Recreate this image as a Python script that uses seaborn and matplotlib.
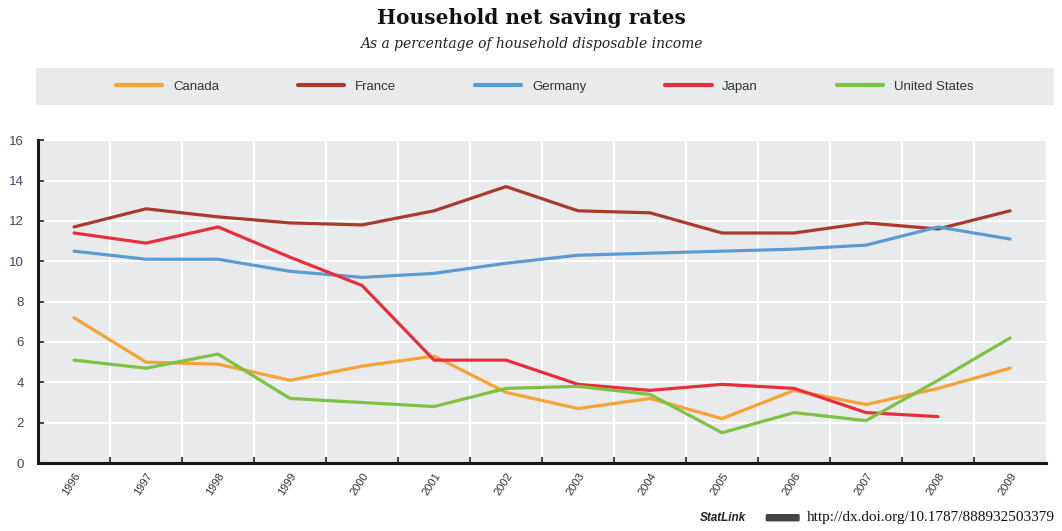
import matplotlib
matplotlib.use("Agg")
import matplotlib.pyplot as plt
import seaborn as sns
import pandas as pd
import numpy as np
from matplotlib.patches import Rectangle, FancyBboxPatch
from matplotlib.lines import Line2D

years = ["1996", "1997", "1998", "1999", "2000", "2001", "2002",
         "2003", "2004", "2005", "2006", "2007", "2008", "2009"]
countries = ["Canada", "France", "Germany", "Japan", "United States"]

canada = [7.2, 5.0, 4.9, 4.1, 4.8, 5.3, 3.5, 2.7, 3.2, 2.2, 3.6, 2.9, 3.7, 4.7]
france = [11.7, 12.6, 12.2, 11.9, 11.8, 12.5, 13.7, 12.5, 12.4, 11.4, 11.4, 11.9, 11.6, 12.5]
germany = [10.5, 10.1, 10.1, 9.5, 9.2, 9.4, 9.9, 10.3, 10.4, 10.5, 10.6, 10.8, 11.7, 11.1]
japan = [11.4, 10.9, 11.7, 10.2, 8.8, 5.1, 5.1, 3.9, 3.6, 3.9, 3.7, 2.5, 2.3, None]
united_states = [5.1, 4.7, 5.4, 3.2, 3.0, 2.8, 3.7, 3.8, 3.4, 1.5, 2.5, 2.1, 4.1, 6.2]

colors = ["#F7A234", "#A83A2E", "#5B9BD3", "#E62F3C", "#7DC243"]

series = [canada, france, germany, japan, united_states]
rows = []
for name, vals in zip(countries, series):
    for i, (yr, v) in enumerate(zip(years, vals)):
        if v is not None:
            rows.append({"pos": i, "year": yr, "country": name, "rate": v})
df = pd.DataFrame(rows)

sns.set_theme(style="white")
plt.rcParams["font.family"] = ["Liberation Sans", "DejaVu Sans"]

fig = plt.figure(figsize=(10.62, 5.31), dpi=100)
ax = fig.add_axes([0.0358, 0.128, 0.9492, 0.608])
ax.set_facecolor("#E9EAEC")

sns.lineplot(data=df, x="pos", y="rate", hue="country", hue_order=countries,
             palette=colors, linewidth=2.3, legend=False, ax=ax, estimator=None)

ax.set_xlim(-0.5, len(years) - 0.5)
ax.set_ylim(0, 16)
ax.set_yticks(np.arange(0, 17, 2))
ax.set_xticks(np.arange(len(years)))
ax.set_xticks(np.arange(len(years) - 1) + 0.5, minor=True)
ax.set_xticklabels(years, rotation=57, ha="right", rotation_mode="anchor",
                   fontsize=8, color="#333333")
ax.tick_params(axis="x", which="major", length=0, pad=6)
ax.tick_params(axis="x", which="minor", length=4, width=1.2, direction="in",
               color="#222222", bottom=True)
ax.tick_params(axis="y", length=4, width=1.2, direction="in", color="#222222",
               labelsize=9.5, labelcolor="#3A4660", pad=10, left=True)
ax.grid(False)
ax.yaxis.grid(True, color="white", linewidth=1.5)
ax.xaxis.grid(True, which="minor", color="white", linewidth=1.5)
ax.set_axisbelow(True)
ax.set_xlabel("")
ax.set_ylabel("")
for s in ["top", "right"]:
    ax.spines[s].set_visible(False)
for s in ["left", "bottom"]:
    ax.spines[s].set_color("#1A1A1A")
    ax.spines[s].set_linewidth(2.2)

# legend band
fig.patches.append(Rectangle((0.034, 0.802), 0.958, 0.07, transform=fig.transFigure,
                             facecolor="#E9EAEC", edgecolor="none", zorder=0))
handles = [Line2D([0], [0], color=c, linewidth=3) for c in colors]
fig.legend(handles, countries, loc="center", bbox_to_anchor=(0.513, 0.837),
           ncol=5, frameon=False, fontsize=9.5, handlelength=3.5,
           columnspacing=6.0, handletextpad=0.8, labelcolor="#333333")

fig.text(0.5, 0.966, "Household net saving rates", ha="center", va="center",
         fontsize=14.5, fontweight="bold", family="DejaVu Serif", color="#111111")
fig.text(0.5, 0.917, "As a percentage of household disposable income", ha="center",
         va="center", fontsize=10, style="italic", family="DejaVu Serif",
         color="#222222")

fig.text(0.659, 0.025, "StatLink", ha="left", va="center", fontsize=8.5,
         style="italic", fontweight="bold", color="#222222")
fig.patches.append(FancyBboxPatch((0.723, 0.020), 0.028, 0.010,
                                  boxstyle="round,pad=0.002", transform=fig.transFigure,
                                  facecolor="#444444", edgecolor="none"))
fig.text(0.760, 0.025, "http://dx.doi.org/10.1787/888932503379", ha="left",
         va="center", fontsize=11, family=["Liberation Serif", "DejaVu Serif"],
         color="#111111")

fig.savefig("out.png", dpi=100)
